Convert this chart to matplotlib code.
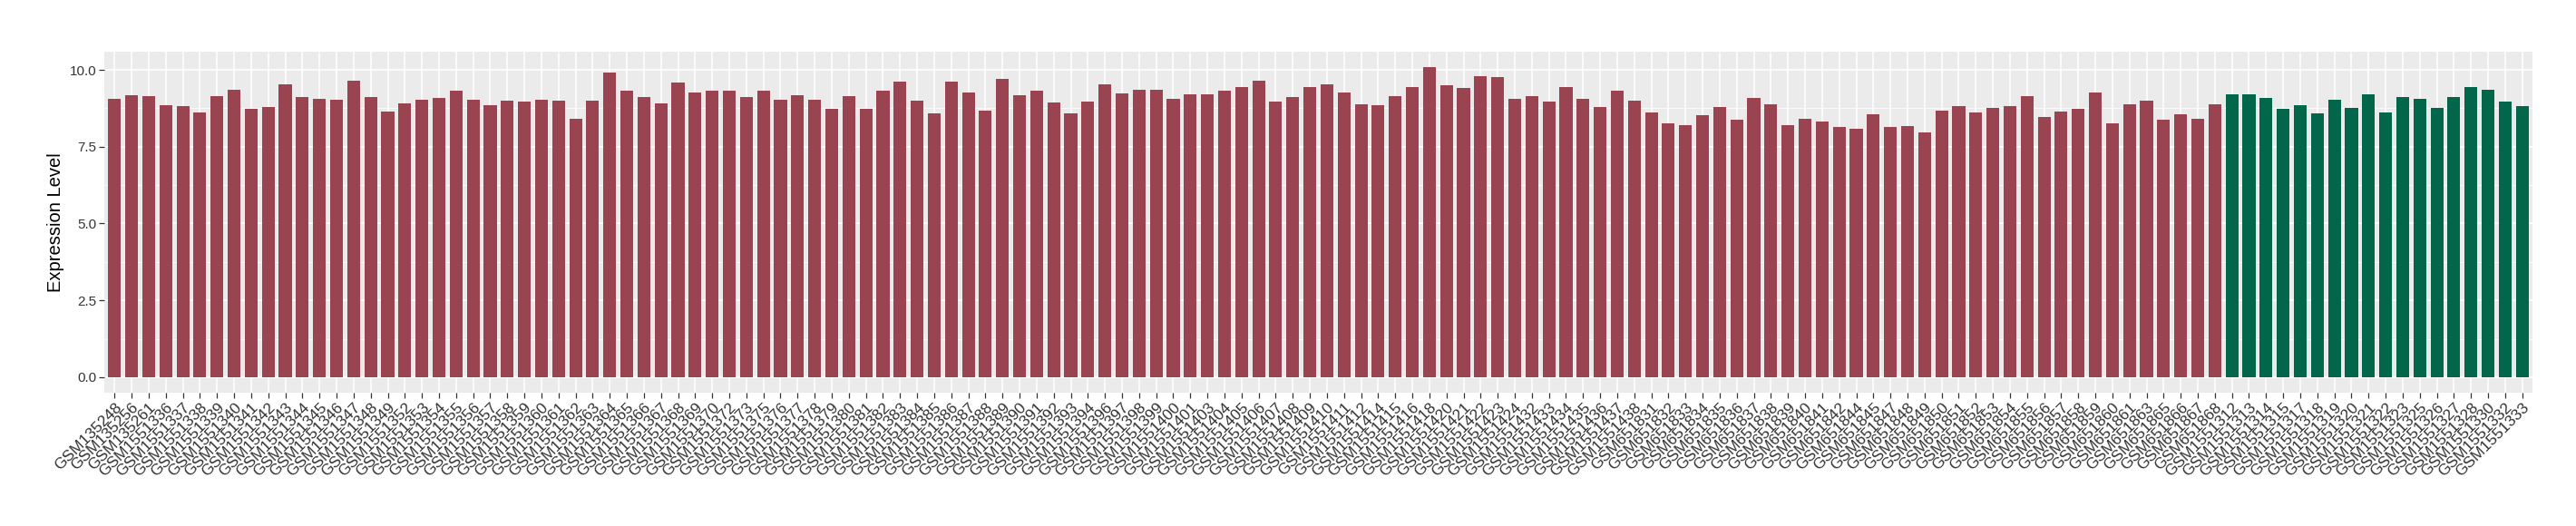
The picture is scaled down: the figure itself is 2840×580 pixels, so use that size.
import numpy as np
import matplotlib.pyplot as plt
from matplotlib.ticker import MultipleLocator

# sample ids in plotting order (tumour group first, then normal group)
tumour_samples = [
    "GSM135248", "GSM135256", "GSM135261",
    "GSM1551336", "GSM1551337", "GSM1551338", "GSM1551339", "GSM1551340", "GSM1551341",
    "GSM1551342", "GSM1551343", "GSM1551344", "GSM1551345", "GSM1551346", "GSM1551347",
    "GSM1551348", "GSM1551349", "GSM1551352", "GSM1551353", "GSM1551354", "GSM1551355",
    "GSM1551356", "GSM1551357", "GSM1551358", "GSM1551359", "GSM1551360", "GSM1551361",
    "GSM1551362", "GSM1551363", "GSM1551364", "GSM1551365", "GSM1551366", "GSM1551367",
    "GSM1551368", "GSM1551369", "GSM1551370", "GSM1551372", "GSM1551373", "GSM1551375",
    "GSM1551376", "GSM1551377", "GSM1551378", "GSM1551379", "GSM1551380", "GSM1551381",
    "GSM1551382", "GSM1551383", "GSM1551384", "GSM1551385", "GSM1551386", "GSM1551387",
    "GSM1551388", "GSM1551389", "GSM1551390", "GSM1551391", "GSM1551392", "GSM1551393",
    "GSM1551394", "GSM1551396", "GSM1551397", "GSM1551398", "GSM1551399", "GSM1551400",
    "GSM1551401", "GSM1551403", "GSM1551404", "GSM1551405", "GSM1551406", "GSM1551407",
    "GSM1551408", "GSM1551409", "GSM1551410", "GSM1551411", "GSM1551412", "GSM1551414",
    "GSM1551415", "GSM1551416", "GSM1551418", "GSM1551420", "GSM1551421", "GSM1551422",
    "GSM1551423", "GSM1551424", "GSM1551432", "GSM1551433", "GSM1551434", "GSM1551435",
    "GSM1551436", "GSM1551437", "GSM1551438",
    "GSM651831", "GSM651832", "GSM651833", "GSM651834", "GSM651835", "GSM651836",
    "GSM651837", "GSM651838", "GSM651839", "GSM651840", "GSM651841", "GSM651842",
    "GSM651844", "GSM651845", "GSM651847", "GSM651848", "GSM651849", "GSM651850",
    "GSM651851", "GSM651852", "GSM651853", "GSM651854", "GSM651855", "GSM651856",
    "GSM651857", "GSM651858", "GSM651859", "GSM651860", "GSM651861", "GSM651863",
    "GSM651865", "GSM651866", "GSM651867", "GSM651868",
]
normal_samples = [
    "GSM1551312", "GSM1551313", "GSM1551314", "GSM1551315", "GSM1551317", "GSM1551318",
    "GSM1551319", "GSM1551320", "GSM1551321", "GSM1551322", "GSM1551323", "GSM1551325",
    "GSM1551326", "GSM1551327", "GSM1551328", "GSM1551330", "GSM1551332", "GSM1551333",
]

tumour_expr = [
    9.06, 9.18, 9.15, 8.86, 8.83, 8.62, 9.15, 9.36, 8.74, 8.80, 9.53, 9.12, 9.07, 9.04,
    9.66, 9.12, 8.65, 8.92, 9.04, 9.10, 9.31, 9.04, 8.86, 9.01, 8.97, 9.04, 9.01, 8.41,
    9.01, 9.90, 9.33, 9.12,
    8.92, 9.60, 9.27, 9.33, 9.31, 9.12, 9.33, 9.04, 9.18, 9.04, 8.74, 9.15, 8.72, 9.31,
    9.63, 9.01, 8.59, 9.63, 9.27, 8.68, 9.71, 9.18, 9.31, 8.94, 8.59, 8.97, 9.53, 9.24,
    9.36, 9.36, 9.07, 9.21, 9.21, 9.31, 9.45, 9.66, 8.97,
    9.12, 9.45, 9.53, 9.27, 8.89, 8.86, 9.15, 9.45, 10.10, 9.51, 9.42, 9.80, 9.77, 9.07,
    9.15, 8.97, 9.45, 9.07, 8.80, 9.33, 9.01, 8.62, 8.27, 8.21, 8.51, 8.80, 8.38, 9.10,
    8.89, 8.21, 8.41, 8.33, 8.15, 8.09, 8.56, 8.15, 8.18,
    7.97, 8.68, 8.83, 8.62, 8.77, 8.83, 9.15, 8.48, 8.65, 8.72, 9.27, 8.27, 8.89, 9.01,
    8.38, 8.56, 8.41, 8.89,
]
normal_expr = [
    9.21, 9.21, 9.10, 8.72, 8.86, 8.59, 9.04, 8.77, 9.21, 8.62, 9.12, 9.07, 8.77, 9.12,
    9.45, 9.36, 8.97, 8.83,
]

tumour_color = "#9A4351"
normal_color = "#02674A"

samples = tumour_samples + normal_samples
expr = tumour_expr + normal_expr
colors = [tumour_color] * len(tumour_samples) + [normal_color] * len(normal_samples)

plt.rcParams['font.family'] = ['Liberation Sans', 'DejaVu Sans']

fig = plt.figure(figsize=(28.4, 5.8), dpi=100)
ax = fig.add_axes([115 / 2840, 1 - 433 / 580, 2677 / 2840, 376.5 / 580])

x = np.arange(len(samples))
ax.set_facecolor("#EBEBEB")
ax.bar(x, expr, width=0.75, color=colors, zorder=3)

# ggplot-like axes
ax.set_xlim(-0.6, len(samples) - 0.4)
ax.set_ylim(-0.505, 10.605)
ax.yaxis.set_major_locator(MultipleLocator(2.5))
ax.yaxis.set_minor_locator(MultipleLocator(1.25))
ax.set_yticks([0, 2.5, 5, 7.5, 10])
ax.set_yticklabels(["0.0", "2.5", "5.0", "7.5", "10.0"])
ax.set_xticks(x)
ax.set_xticklabels(samples, rotation=45, ha='right', va='top', rotation_mode='anchor')

ax.grid(which='major', color='white', linewidth=1.1, zorder=0)
ax.grid(which='minor', axis='y', color='white', linewidth=0.55, zorder=0)
for s in ax.spines.values():
    s.set_visible(False)

ax.tick_params(axis='both', which='major', length=4, width=0.9, color='#333333',
               labelcolor='#333333')
ax.tick_params(axis='y', which='minor', length=0)
ax.tick_params(axis='y', labelsize=11, pad=2)
ax.tick_params(axis='x', labelsize=12.5, pad=2)

ax.set_ylabel("Expression Level", fontsize=14.5, color='black')
ax.yaxis.set_label_coords(-0.0165, 0.5)

fig.savefig("out.png", dpi=100)
